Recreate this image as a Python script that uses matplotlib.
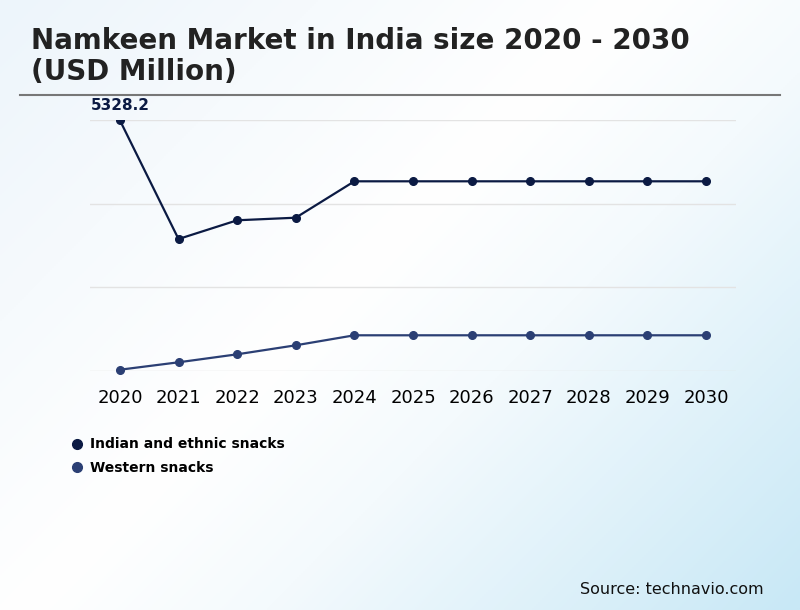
"""Namkeen market in India, 2020-2030 (USD million), two segment lines."""
import matplotlib.pyplot as plt
import numpy as np
from matplotlib.colors import LinearSegmentedColormap
from matplotlib.lines import Line2D

plt.rcParams["font.family"] = ["DejaVu Sans"]

years = [2020, 2021, 2022, 2023, 2024, 2025, 2026, 2027, 2028, 2029, 2030]
indian = [5328.2, 2800, 3199, 3254, 4029, 4029, 4029, 4029, 4029, 4029, 4029]
western = [17, 175, 345, 537, 750, 750, 750, 750, 750, 750, 750]
series_names = ["Indian and ethnic snacks", "Western snacks"]
series_colors = ["#0b1a43", "#2b3f74"]

fig = plt.figure(figsize=(8, 6.1), dpi=100)

# diagonal background gradient
bg = fig.add_axes([0, 0, 1, 1], zorder=-10)
gx, gy = np.meshgrid(np.linspace(0, 1, 400), np.linspace(0, 1, 300))
grad = (gx * 0.57 + gy * 0.43)
cmap = LinearSegmentedColormap.from_list(
    "bg", [(0, "#edf5fb"), (0.45, "#ffffff"), (0.62, "#f4fafd"), (1, "#c8e8f6")])
bg.imshow(grad, cmap=cmap, aspect="auto", extent=[0, 1, 0, 1], origin="upper")
bg.axis("off")

ax = fig.add_axes([0.1125, 0.3926, 0.8075, 0.4102])
ax.patch.set_alpha(0)
# top series is clipped at the axes edge (as in the original), bottom is not
for vals, col, clip in zip([indian, western], series_colors, [True, False]):
    ax.plot(years, vals, color=col, lw=1.6, marker="o", ms=5.5, clip_on=clip)

ax.set_xlim(2019.49, 2030.51)
ax.set_ylim(0, max(indian))
ax.set_yticks(np.linspace(0, max(indian), 4))
ax.set_yticklabels([])
ax.tick_params(axis="y", length=0)
ax.tick_params(axis="x", length=0, labelsize=13, pad=13.5)
ax.set_xticks(years)
ax.grid(True, axis="y", color="#e3e3e3", lw=1)
for sp in ax.spines.values():
    sp.set_visible(False)

ax.annotate(f"{indian[0]:.1f}", (years[0], indian[0]), xytext=(0, 5),
            textcoords="offset points", ha="center", va="bottom",
            fontsize=11, fontweight="bold", color=series_colors[0])

fig.text(0.039, 1 - 27 / 610, "Namkeen Market in India size 2020 - 2030\n(USD Million)",
         fontsize=20, fontweight="bold", color="#222222", ha="left",
         va="top", linespacing=1.12)
fig.add_artist(Line2D([0.025, 0.975], [1 - 95 / 610] * 2, color="#777777", lw=1.5))

handles = [Line2D([], [], color=c, marker="o", ls="", ms=7) for c in series_colors]
leg = fig.legend(handles, series_names, loc="upper left",
                 bbox_to_anchor=(0.072, 1 - 425 / 610), frameon=False,
                 handletextpad=0.45, labelspacing=0.65, handlelength=1.0,
                 prop={"weight": "bold", "size": 10})

fig.text(0.954, 1 - 589 / 610, "Source: technavio.com", ha="right",
         va="center", fontsize=11.5, color="#111111")

fig.savefig("out.png", dpi=100)
